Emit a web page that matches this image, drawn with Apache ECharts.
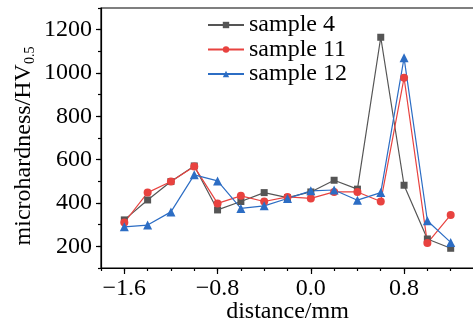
<!DOCTYPE html>
<html><head><meta charset="utf-8">
<script src="https://cdn.jsdelivr.net/npm/echarts@6/dist/echarts.min.js"></script>
<style>html,body{margin:0;padding:0;background:#fff}#c{width:473px;height:321px}</style>
</head><body><div id="c"></div>
<script>
const distances = [-1.6,-1.4,-1.2,-1.0,-0.8,-0.6,-0.4,-0.2,0.0,0.2,0.4,0.6,0.8,1.0,1.2];
const sample4  = [322,414,499,571,368,407,448,425,451,505,464,1165,482,234,191];
const sample11 = [310,448,499,568,398,433,407,428,421,451,451,407,978,215,345];
const sample12 = [290,298,359,530,502,375,387,421,456,460,413,448,1070,318,218];
const xMajorTicks = [-1.6,-0.8,0.0,0.8];
const yMajorTicks = [200,400,600,800,1000,1200];
const seriesNames = ['sample 4','sample 11','sample 12'];

const FONT = 'Liberation Serif';
const FS = 24;
const colors = ['#555555','#e8423f','#2c6dc4'];
const pair = arr => distances.map((d,i)=>[d,arr[i]]);
const chart = echarts.init(document.getElementById('c'), null, {renderer:'canvas'});
const fmtX = v => (Math.abs(v)<1e-9 ? '0.0' : v.toFixed(1)).replace('-','\u2212');
const mk = (name, data, color, symbol, size) => ({
  name, type:'line', data, xAxisIndex:0, yAxisIndex:0,
  symbol, symbolSize:size, showSymbol:true,
  lineStyle:{color, width:1.2}, itemStyle:{color},
  animation:false, z: 3
});
chart.setOption({
  animation:false,
  grid:{left:101, right:-1, top:8, bottom:53, show:true, borderColor:'#000', borderWidth:1.2, outerBoundsMode:'none', containLabel:false},
  legend:{
    orient:'vertical', left:202, top:8, itemWidth:36, itemHeight:8, itemGap:0.5,
    textStyle:{fontFamily:FONT, fontSize:FS, color:'#000'},
    data: seriesNames
  },
  xAxis:[{
    type:'value', min:-1.8, max:1.4, interval:0.2, position:'bottom',
    axisLine:{show:true, onZero:false, lineStyle:{color:'#000', width:1.2}},
    axisTick:{show:true, length:6, inside:false, customValues:xMajorTicks, lineStyle:{color:'#000', width:1.2}},
    axisLabel:{customValues:xMajorTicks, formatter:fmtX, fontFamily:FONT, fontSize:FS, color:'#000', margin:9},
    splitLine:{show:false},
    name:'distance/mm', nameLocation:'middle', nameGap:32, nameMoveOverlap:false,
    nameTextStyle:{fontFamily:FONT, fontSize:FS, color:'#000', verticalAlign:'top'}
  },{
    type:'value', min:-1.8, max:1.4, interval:0.2, position:'bottom',
    axisLine:{show:false, onZero:false},
    axisTick:{show:true, length:3, lineStyle:{color:'#000', width:1.2}},
    axisLabel:{show:false}, splitLine:{show:false}
  }],
  yAxis:[{
    type:'value', min:100, max:1300, interval:100, position:'left',
    axisLine:{show:true, onZero:false, lineStyle:{color:'#000', width:1.2}},
    axisTick:{show:true, length:5, customValues:yMajorTicks, lineStyle:{color:'#000', width:1.2}},
    axisLabel:{customValues:yMajorTicks, formatter: v => String(v), fontFamily:FONT, fontSize:FS, color:'#000', margin:9},
    splitLine:{show:false},
    name:'{a|microhardness/HV}{b|0.5}', nameLocation:'middle', nameGap:64, nameRotate:90, nameMoveOverlap:false,
    nameTextStyle:{
      fontFamily:FONT, fontSize:FS, color:'#000', padding:[0,16,0,0],
      rich:{
        a:{fontFamily:FONT, fontSize:FS, color:'#000'},
        b:{fontFamily:FONT, fontSize:14, color:'#000', padding:[12,0,0,0]}
      }
    }
  },{
    type:'value', min:100, max:1300, interval:100, position:'left',
    axisLine:{show:false, onZero:false},
    axisTick:{show:true, length:3, lineStyle:{color:'#000', width:1.2}},
    axisLabel:{show:false}, splitLine:{show:false}
  }],
  series:[
    mk(seriesNames[0], pair(sample4), colors[0], 'rect', 7),
    mk(seriesNames[1], pair(sample11), colors[1], 'circle', 8),
    mk(seriesNames[2], pair(sample12), colors[2], 'triangle', 9)
  ]
});
</script></body></html>
